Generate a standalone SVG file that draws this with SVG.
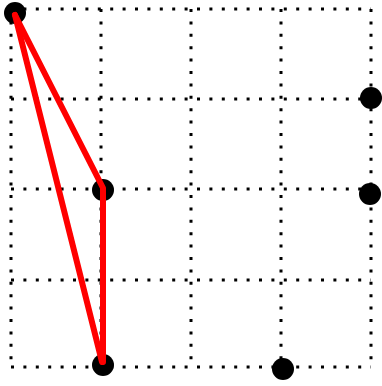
<svg xmlns="http://www.w3.org/2000/svg" width="382" height="386" viewBox="0 0 382 386">
<style>
.g{stroke:#000;stroke-width:3;stroke-dasharray:3 9.4;fill:none}
.p{fill:#000}
.e{stroke:#ff0000;stroke-width:6;fill:none;stroke-linecap:round;stroke-linejoin:round}
</style>
<rect width="382" height="386" fill="#fff"/>
<g id="grid">
<line class="g" x1="11" y1="9" x2="11" y2="367"/>
<line class="g" x1="101" y1="9" x2="101" y2="367"/>
<line class="g" x1="191" y1="9" x2="191" y2="367"/>
<line class="g" x1="281" y1="9" x2="281" y2="367"/>
<line class="g" x1="371" y1="9" x2="371" y2="367"/>
<line class="g" x1="11" y1="9" x2="371" y2="9"/>
<line class="g" x1="11" y1="99" x2="371" y2="99"/>
<line class="g" x1="11" y1="189" x2="371" y2="189"/>
<line class="g" x1="11" y1="280" x2="371" y2="280"/>
<line class="g" x1="11" y1="367" x2="371" y2="367"/>
</g>
<g id="n1"><circle class="p" cx="15" cy="13" r="11"/></g>
<g id="n2"><circle class="p" cx="371" cy="98" r="11"/></g>
<g id="n3"><circle class="p" cx="370" cy="194" r="11"/></g>
<g id="n4"><circle class="p" cx="103" cy="190" r="11"/></g>
<g id="n5"><circle class="p" cx="103" cy="365" r="11"/></g>
<g id="n6"><circle class="p" cx="283" cy="369" r="11"/></g>
<g id="connectors">
<polyline class="e" points="15,15 103,188 103,362"/>
<line class="e" x1="15" y1="15" x2="102" y2="362"/>
</g>
</svg>
